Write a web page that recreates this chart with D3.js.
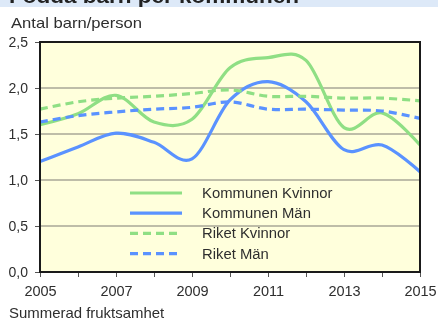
<!DOCTYPE html>
<html>
<head>
<meta charset="utf-8">
<script src="https://cdn.jsdelivr.net/npm/d3@7/dist/d3.min.js"></script>
<style>
  html, body { margin: 0; padding: 0; background: #fff; }
  svg { display: block; filter: blur(0.45px); }
  text { font-family: Arial, "Liberation Sans", sans-serif; fill: #2e2e2e; }
</style>
</head>
<body>
<svg id="chart" width="438" height="321"></svg>
<script>
// Summed fertility (children per person), municipality vs. whole country
const years = [2005, 2006, 2007, 2008, 2009, 2010, 2011, 2012, 2013, 2014, 2015];
const kommunenKvinnor = [1.60, 1.72, 1.92, 1.63, 1.66, 2.22, 2.33, 2.30, 1.57, 1.73, 1.38];
const kommunenMan     = [1.20, 1.36, 1.51, 1.41, 1.23, 1.87, 2.07, 1.85, 1.33, 1.38, 1.09];
const riketKvinnor    = [1.77, 1.85, 1.89, 1.91, 1.94, 1.98, 1.91, 1.91, 1.89, 1.89, 1.86];
const riketMan        = [1.63, 1.70, 1.74, 1.77, 1.79, 1.85, 1.77, 1.77, 1.76, 1.75, 1.67];
const seriesNames = ["Kommunen Kvinnor", "Kommunen Män", "Riket Kvinnor", "Riket Män"];
const yTicks = [0, 0.5, 1.0, 1.5, 2.0, 2.5];
const xLabelYears = [2005, 2007, 2009, 2011, 2013, 2015];

const GREEN = "#8fdf84", BLUE = "#5a92ff";
const series = [
  { name: seriesNames[0], values: kommunenKvinnor, color: GREEN, dash: null },
  { name: seriesNames[1], values: kommunenMan, color: BLUE, dash: null },
  { name: seriesNames[2], values: riketKvinnor, color: GREEN, dash: "8,5" },
  { name: seriesNames[3], values: riketMan, color: BLUE, dash: "8,5" }
];

const svg = d3.select("#chart");
const plot = { left: 40, right: 420, top: 42, bottom: 272 };

const x = d3.scaleLinear().domain([2005, 2015]).range([plot.left, plot.right]);
const y = d3.scaleLinear().domain([0, 2.5]).range([plot.bottom, plot.top]);
const fmt = d => d.toFixed(1).replace(".", ",");

// widen a text selection slightly (the report font runs a little wide)
function widen(sel, k) {
  sel.each(function () {
    const w = this.getComputedTextLength();
    if (w > 0) d3.select(this).attr("textLength", w * k).attr("lengthAdjust", "spacingAndGlyphs");
  });
}

// page header strip; the heading sits mostly above the visible area
svg.append("rect").attr("x", 0).attr("y", 0).attr("width", 438).attr("height", 7).attr("fill", "#dde9f8");
svg.append("text").attr("x", 9).attr("y", 2.5)
  .style("font-size", "20px").style("font-weight", "bold").style("fill", "#222")
  .attr("textLength", 290).attr("lengthAdjust", "spacingAndGlyphs")
  .text("Födda barn per kommunen");

// unit caption
svg.append("text").attr("x", 11).attr("y", 27.5).style("font-size", "15px")
  .attr("textLength", 131).attr("lengthAdjust", "spacingAndGlyphs")
  .text("Antal barn/person");

// plot background
svg.append("rect").attr("x", plot.left).attr("y", plot.top)
  .attr("width", plot.right - plot.left).attr("height", plot.bottom - plot.top)
  .attr("fill", "#ffffdc");

// gridlines
svg.append("g").selectAll("line").data(yTicks.filter(t => t > 0 && t < 2.5)).join("line")
  .attr("x1", plot.left).attr("x2", plot.right)
  .attr("y1", d => y(d)).attr("y2", d => y(d))
  .attr("stroke", "#a9a797").attr("stroke-width", 1.5);

// y axis
const yAxis = svg.append("g").attr("transform", `translate(${plot.left},0)`)
  .call(d3.axisLeft(y).tickValues(yTicks).tickFormat(fmt).tickSize(5).tickPadding(7));
yAxis.select(".domain").remove();
yAxis.selectAll("line").attr("stroke", "#555");
yAxis.selectAll("text").style("font-size", "14px").style("font-family", "Arial, 'Liberation Sans', sans-serif").attr("fill", "#2e2e2e");

// x axis
const xAxis = svg.append("g").attr("transform", `translate(0,${plot.bottom})`)
  .call(d3.axisBottom(x).tickValues(years).tickFormat(d => xLabelYears.includes(d) ? d : "").tickSize(5).tickPadding(9));
xAxis.select(".domain").remove();
xAxis.selectAll("line").attr("stroke", "#555");
xAxis.selectAll("text").style("font-size", "14.5px").style("font-family", "Arial, 'Liberation Sans', sans-serif").attr("fill", "#2e2e2e");

// series lines
const line = d3.line()
  .x((d, i) => x(years[i]))
  .y(d => y(d))
  .curve(d3.curveCardinal.tension(0));

svg.append("g").selectAll("path").data(series).join("path")
  .attr("d", d => line(d.values))
  .attr("fill", "none")
  .attr("stroke", d => d.color)
  .attr("stroke-width", 3.2)
  .attr("stroke-dasharray", d => d.dash);

// plot frame
svg.append("rect").attr("x", plot.left).attr("y", plot.top)
  .attr("width", plot.right - plot.left).attr("height", plot.bottom - plot.top)
  .attr("fill", "none").attr("stroke", "#1a1a1a").attr("stroke-width", 2);

// legend
const legend = svg.append("g").attr("transform", "translate(130,193)");
const rows = legend.selectAll("g").data(series).join("g")
  .attr("transform", (d, i) => `translate(0,${i * 20.2})`);
rows.append("line").attr("x1", 0).attr("x2", 52).attr("y1", 0).attr("y2", 0)
  .attr("stroke", d => d.color).attr("stroke-width", 3.2).attr("stroke-dasharray", d => d.dash);
rows.append("text").attr("x", 72).attr("y", 5).style("font-size", "14px").text(d => d.name)
  .call(widen, 1.06);

// footer caption
svg.append("text").attr("x", 9).attr("y", 318).style("font-size", "14.5px").text("Summerad fruktsamhet")
  .call(widen, 1.03);
</script>
</body>
</html>
